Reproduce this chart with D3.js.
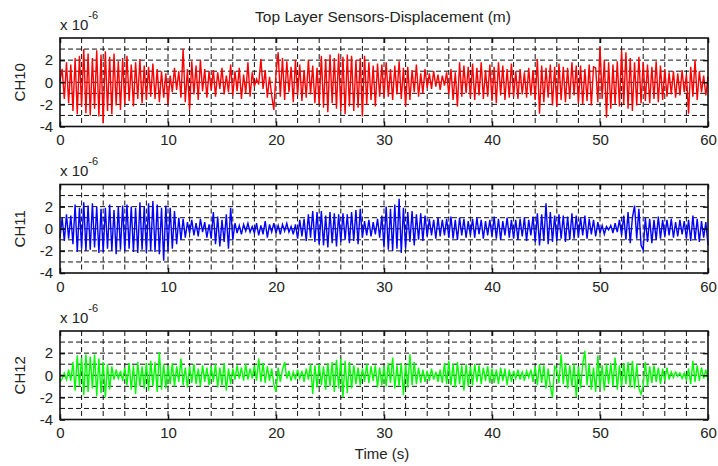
<!DOCTYPE html>
<html>
<head>
<meta charset="utf-8">
<script src="https://cdn.jsdelivr.net/npm/d3@7"></script>
<style>
body{margin:0;background:#fff;}
text{font-family:Arial,"Liberation Sans",sans-serif;fill:#222;}
</style>
</head>
<body>
<svg id="chart" width="718" height="466"></svg>
<script>

// displacement samples, units of 1e-6 m, one sample every 0.2 s
var sampleStep = 0.2;

var ch10 = [
 0.1, 1.2,-1.5, 1.8,-1.9, 1.6,-2.6, 2.2,-2.9, 2.4,
-2.2, 3.0,-2.8, 2.6,-3.0, 2.2,-2.4, 2.9,-3.1, 2.5,
-3.7, 2.8,-2.6, 2.3,-2.9, 2.6,-2.1, 1.9,-2.5, 2.2,
-2.0, 2.4,-1.7, 1.6,-2.2, 1.8,-1.5, 2.1,-1.9, 1.5,
-1.6, 1.4,-1.3, 1.7,-1.5, 1.2,-1.8, 1.0,-1.4, 0.8,
-2.0, 0.6,-0.9, 1.3,-0.7, 1.0,-1.4, 3.0,-1.8, 1.2,
-2.5, 1.9,-1.1, 1.5,-1.6, 2.0,-0.8, 1.2,-1.4, 1.0,
-0.7, 1.1,-1.3, 0.9,-0.6, 1.3,-1.1, 0.6,-0.9, 1.6,
-1.2, 1.0,-0.8, 1.3,-1.5, 0.7,-1.0, 1.8,-1.3, 0.9,
-0.4, 0.3,-0.2, 2.1,-0.6, 1.1,-1.4, 0.5,-1.2,-2.5,
 0.8, 2.7,-1.3, 2.2,-1.6, 1.9,-0.9, 1.4,-1.8, 2.0,
-1.2, 1.6,-1.7, 1.1,-1.4, 2.0,-1.1, 1.5,-1.9, 1.3,
-2.0, 2.4,-2.3, 2.1,-2.7, 2.5,-1.9, 2.2,-2.4, 2.6,
-2.6, 2.3,-2.9, 2.5,-2.2, 2.4,-2.6, 2.0,-2.3, 2.2,
-3.1, 2.4,-2.0, 1.8,-1.6, 1.5,-2.2, 1.7,-1.3, 1.6,
-1.4, 1.8,-1.3, 1.2,-1.6, 1.5,-1.1, 1.9,-1.5, 1.3,
-2.2, 1.4,-1.6, 1.1,-0.9, 1.6,-1.3, 0.8,-1.0, 1.2,
-0.5, 0.8,-0.6, 1.0,-0.4, 0.7,-0.7, 0.6,-0.3, 0.9,
-1.1, 1.2,-1.6, 0.9,-2.2, 1.8,-1.3, 1.5,-1.0, 1.4,
-1.4, 1.7,-1.6, 1.3,-1.2, 1.8,-1.5, 1.1,-1.3, 1.6,
-1.7, 1.4,-1.9, 1.8,-1.2, 1.5,-1.6, 1.2,-1.4, 1.7,
-1.3, 1.0,-1.5, 1.2,-1.1, 0.9,-1.4, 1.3,-1.2, 1.1,
-1.6, 2.1,-2.85,1.5,-1.8, 1.3,-1.4, 1.6,-2.1, 1.4,
-2.2, 1.7,-1.6, 1.4,-1.8, 1.3,-1.5, 1.8,-1.2, 1.5,
-1.9, 1.5,-2.0, 1.2,-1.7, 1.6,-2.1, 1.4, 1.3,-1.8,
 3.2,-1.5, 2.0,-3.2, 1.8,-2.4, 1.6,-2.0, 1.9,-2.2,
 2.9,-2.0, 2.7,-2.4, 2.2,-2.6, 1.8,-2.1, 2.3,-1.9,
 1.8,-1.7, 1.6,-1.9, 1.4,-1.5, 1.9,-1.8, 1.5,-1.6,
 1.2,-1.3, 0.9,-1.1, 1.0,-1.4, 0.8,-1.2, 1.1,-0.9,
 0.7,-2.85,1.4,-1.3, 2.0,-1.6, 1.0,-0.9, 0.6,-1.2,
 0.5
];

var ch11 = [
-0.8, 1.0,-1.1, 1.3,-0.9, 1.2,-1.4, 2.2,-2.1, 1.9,
-1.8, 2.4,-2.0, 2.1,-1.9, 2.3,-1.7, 2.0,-2.2, 1.8,
-2.1, 1.9,-1.8, 2.2,-2.0, 1.7,-2.3, 2.0,-1.9, 2.1,
-2.0, 2.2,-1.8, 2.0,-2.1, 1.9,-2.2, 2.4,-1.9, 2.0,
-2.2, 2.3,-2.0, 2.5,-2.1, 2.2,-2.3, 1.9,-2.9, 2.1,
-2.0, 1.9,-1.8, 1.6,-1.4, 1.0,-1.0, 0.9,-0.8, 0.6,
-0.4, 0.8,-0.6, 0.5,-0.7, 0.9,-0.3, 0.6,-0.8, 0.4,
-0.9, 1.5,-1.4, 1.1,-1.6, 0.8,-1.2, 1.3,-1.8, 1.9,
-1.0, 0.5,-0.4, 0.3,-0.5, 0.4,-0.2, 0.5,-0.3, 0.2,
-0.4, 0.5,-0.6, 0.3,-0.5, 0.7,-0.8, 0.4,-0.3, 0.5,
-0.4, 0.3,-0.5, 0.4,-0.2, 0.5,-0.3, 0.2,-0.5, 0.4,
-0.9, 0.8,-0.7, 0.9,-1.1, 1.3,-0.8, 1.6,-1.2, 1.5,
-1.4, 1.6,-1.5, 1.2,-1.7, 1.5,-1.3, 1.4,-1.6, 1.3,
-1.2, 1.4,-1.0, 1.3,-1.3, 1.5,-1.1, 1.7,-1.4, 1.8,
-0.8, 0.7,-0.6, 0.8,-0.7, 0.6,-0.5, 0.9,-0.8, 1.2,
-1.7, 2.0,-1.9, 1.8,-2.0, 2.2,-1.8, 2.7,-2.2, 1.9,
-1.8, 1.5,-1.2, 1.6,-1.5, 1.3,-1.0, 1.4,-1.1, 1.2,
-0.7, 0.9,-0.6, 0.8,-0.9, 1.0,-0.7, 0.8,-0.6, 0.9,
-0.8, 1.1,-0.9, 0.8,-1.0, 1.0,-0.6, 0.9,-0.8, 0.7,
-0.6, 0.9,-0.8, 1.0,-0.5, 0.8,-0.9, 0.7,-0.6, 0.8,
-0.7, 1.1,-0.9, 0.9,-1.0, 0.7,-0.6, 1.0,-0.8, 0.8,
-0.9, 0.8,-1.0, 0.9,-0.7, 1.0,-1.1, 0.8,-0.6, 1.1,
-1.2, 1.4,-1.5, 1.3,-1.1, 2.3,-1.4, 1.5,-1.2, 1.2,
-1.1, 1.3,-0.9, 1.2,-1.2, 1.1,-1.0, 1.4,-0.9, 1.2,
-0.8, 1.0,-0.6, 1.2,-0.9, 0.9,-0.5, 0.8,-0.7, 0.6,
-0.4, 0.3,-0.5, 0.2,-0.1, 0.3,-0.4, 0.5,-0.3, 0.8,
-0.6, 1.2,-1.0, 1.5,-1.3, 1.0, 2.1,-0.9, 1.8,-1.5,
-1.9, 1.0,-1.2, 0.9,-1.3, 0.8,-1.0, 1.1,-0.9, 0.8,
-0.7, 0.8,-0.6, 0.9,-0.8, 0.6,-0.7, 0.8,-0.5, 0.7,
-0.9, 0.8,-1.1, 1.2,-1.0, 0.9,-1.2, 0.7,-0.8, 0.6,
-1.5
];

var ch12 = [
-0.6,-0.3, 0.2,-0.4, 0.5,-0.5, 1.2,-1.4, 1.8,-1.0,
 1.6,-1.8, 1.9,-1.5, 1.7,-1.2, 1.9,-1.9, 1.5,-1.6,
 1.2,-2.0, 1.0,-1.3, 0.8,-0.4, 0.5,-0.3, 0.4,-0.5,
 0.7,-0.9, 1.1,-1.3, 0.9,-1.7, 1.2,-1.0, 0.8,-1.2,
 1.1,-1.4, 1.3,-1.0, 1.2,-1.5, 2.1,-1.3, 1.0,-1.2,
 0.9,-0.8, 1.1,-1.0, 0.8,-0.6, 1.5,-0.9, 0.7,-1.1,
 0.8,-0.7, 1.0,-0.8, 0.6,-1.0, 0.9,-0.6, 0.7,-0.9,
 0.8,-0.6, 1.0,-1.1, 0.7,-0.9, 1.1,-1.4, 0.6,-0.8,
 0.6,-0.4, 0.9,-0.3, 0.7,-0.5, 1.0,-0.4, 0.6,-0.3,
 0.9,-0.5, 1.5,-0.6, 1.1,-0.7, 0.8,-0.5, 0.6,-0.8,
-1.5, 0.7,-0.6, 0.5, 1.2,-0.3, 0.4,-0.5, 0.3,-0.4,
 0.5,-0.3, 0.4,-0.6, 0.6,-0.4, 1.0,-1.7, 0.9,-1.1,
 1.0,-0.9, 0.8,-1.3, 1.1,-1.0, 1.2,-1.5, 1.4,-1.2,
 1.5,-2.0, 1.3,-1.6, 1.2,-1.2, 0.9,-0.8, 0.7,-0.9,
 0.6,-0.6, 1.0,-0.7, 0.8,-0.5, 0.9,-1.1, 0.7,-0.9,
 0.8,-1.0, 1.1,-0.7, 1.6,-1.2, 0.9,-1.0, 1.1,-1.8,
 1.0,-1.1, 1.9,-0.9, 1.2,-0.8, 0.7,-0.7, 0.5,-0.6,
 0.4,-0.5, 0.6,-0.4, 0.3,-0.6, 0.5,-0.7, 1.1,-0.8,
 1.3,-0.9, 1.0,-1.1, 1.2,-0.8, 0.9,-1.4, 1.0,-1.0,
 0.8,-0.9, 1.0,-0.6, 0.9,-0.8, 0.7,-0.5, 0.8,-0.7,
 0.6,-0.7, 0.5,-0.8, 0.7,-0.5, 0.6,-0.9, 0.5,-0.6,
 0.4,-0.3, 0.5,-0.4, 0.3,-0.5, 0.4,-0.2, 0.5,-0.6,
 0.8,-0.9, 1.0,-0.7, 0.9,-1.2, 0.6,-1.0,-2.0, 0.8,
 0.5,-0.7, 1.9,-0.8, 1.1,-1.2, 0.9,-1.0, 1.0,-2.0,
 0.8,-1.2, 1.0, 2.2,-0.9, 1.0,-1.3, 0.7,-1.5, 1.8,
-1.2, 0.9,-1.4, 1.0,-0.8, 1.1,-1.0, 1.6,-1.3, 0.9,
-1.0, 1.1,-0.8, 1.2,-1.1, 1.3,-1.2, 1.0,-1.2,-1.7,
-0.9, 1.2,-1.0, 0.8,-0.7, 0.9,-0.6, 0.7,-0.8, 0.6,
-0.5, 0.7,-0.4, 0.3,-0.2, 0.3,-0.1, 0.2,-0.3, 0.2,
-0.4, 0.6,-0.8, 1.3,-0.6, 0.9,-0.5, 0.7,-0.3, 0.5,
-0.5
];

var channelNames = ['CH10', 'CH11', 'CH12'];
var channelColors = ['#ff0000', '#0000ff', '#00ff00'];
var xTicks = [0, 10, 20, 30, 40, 50, 60];
var yTicks = [-4, -2, 0, 2];
var titleText = 'Top Layer Sensors-Displacement (m)';
var xLabelText = 'Time (s)';

var svg = d3.select('#chart');
var plotLeft = 60, plotRight = 708, plotH = 88.5;
var plotTops = [38, 184.5, 331];
var series = [ch10, ch11, ch12];

var xScale = d3.scaleLinear().domain([0, 60]).range([plotLeft, plotRight]);
var xGrid = d3.range(2, 60, 2);
var yGrid = d3.range(-3, 4, 1);

series.forEach(function(data, k){
    var top = plotTops[k];
    var yScale = d3.scaleLinear().domain([-4, 4]).range([top + plotH, top]);

    var g = svg.append('g').attr('id', 'axes_' + channelNames[k]);

    g.selectAll('line.vgrid')
        .data(xGrid)
        .enter()
        .append('line')
        .attr('class', 'vgrid')
        .attr('x1', function(d){ return xScale(d); })
        .attr('x2', function(d){ return xScale(d); })
        .attr('y1', top)
        .attr('y2', top + plotH)
        .attr('stroke', '#111')
        .attr('stroke-width', 1)
        .attr('stroke-dasharray', '5,3');

    g.selectAll('line.hgrid')
        .data(yGrid)
        .enter()
        .append('line')
        .attr('class', 'hgrid')
        .attr('x1', plotLeft)
        .attr('x2', plotRight)
        .attr('y1', function(d){ return yScale(d); })
        .attr('y2', function(d){ return yScale(d); })
        .attr('stroke', '#111')
        .attr('stroke-width', 1)
        .attr('stroke-dasharray', '5,3');

    var line = d3.line()
        .x(function(d, i){ return xScale(i * sampleStep); })
        .y(function(d){ return yScale(d); });

    g.append('path')
        .datum(data)
        .attr('d', line)
        .attr('fill', 'none')
        .attr('stroke', channelColors[k])
        .attr('stroke-width', 1.4)
        .attr('stroke-linejoin', 'miter');

    var xAxis = d3.axisBottom(xScale).tickValues(xTicks).tickSizeInner(-5).tickSizeOuter(0).tickPadding(8)
        .tickFormat(function(d){ return String(d); });
    var xAxisTop = d3.axisTop(xScale).tickValues(xTicks).tickSizeInner(-5).tickSizeOuter(0).tickFormat('');
    var yAxis = d3.axisLeft(yScale).tickValues(yTicks).tickSizeInner(-5).tickSizeOuter(0).tickPadding(7)
        .tickFormat(function(d){ return String(d); });
    var yAxisRight = d3.axisRight(yScale).tickValues(yTicks).tickSizeInner(-5).tickSizeOuter(0).tickFormat('');

    var ax = [
        g.append('g').attr('transform', 'translate(0,' + (top + plotH) + ')').call(xAxis),
        g.append('g').attr('transform', 'translate(0,' + top + ')').call(xAxisTop),
        g.append('g').attr('transform', 'translate(' + plotLeft + ',0)').call(yAxis),
        g.append('g').attr('transform', 'translate(' + plotRight + ',0)').call(yAxisRight)
    ];
    ax.forEach(function(a){
        a.select('.domain').remove();
        a.selectAll('.tick line').attr('stroke', '#111').attr('stroke-width', 1.5);
        a.selectAll('.tick text').attr('font-size', '15px').attr('fill', '#222');
    });

    g.append('rect')
        .attr('x', plotLeft)
        .attr('y', top)
        .attr('width', plotRight - plotLeft)
        .attr('height', plotH)
        .attr('fill', 'none')
        .attr('stroke', '#111')
        .attr('stroke-width', 1.6);

    var expo = g.append('text')
        .attr('x', plotLeft)
        .attr('y', top - 8.5)
        .attr('font-size', '15px');
    expo.append('tspan').text('x 10');
    expo.append('tspan').attr('dy', -11).attr('font-size', '11px').text('-6');

    g.append('text')
        .attr('transform', 'translate(25,' + (top + plotH / 2) + ') rotate(-90)')
        .attr('text-anchor', 'middle')
        .attr('font-size', '15px')
        .text(channelNames[k]);
});

svg.append('text')
    .attr('x', 383)
    .attr('y', 22)
    .attr('text-anchor', 'middle')
    .attr('font-size', '15.5px')
    .text(titleText);

svg.append('text')
    .attr('x', 382)
    .attr('y', 459)
    .attr('text-anchor', 'middle')
    .attr('font-size', '15px')
    .text(xLabelText);

</script>
</body>
</html>
